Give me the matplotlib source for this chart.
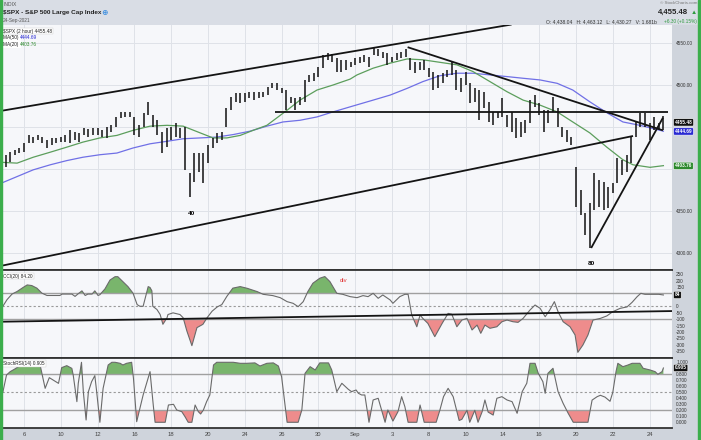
import numpy as np
import matplotlib.pyplot as plt
from matplotlib.patches import Rectangle
from matplotlib.transforms import blended_transform_factory

plt.rcParams['font.family'] = ['Liberation Sans', 'DejaVu Sans']

# $SPX 2-hour bars, 5-Aug-2021 .. 24-Sep-2021 (4 bars per session)
highs = [4417, 4420, 4423, 4425, 4431, 4440, 4438, 4440, 4438, 4434,
         4437, 4437, 4438, 4440, 4446, 4444, 4443, 4449, 4448, 4449,
         4449, 4446, 4450, 4452, 4462, 4468, 4468, 4468, 4462, 4452,
         4467, 4480, 4464, 4458, 4444, 4449, 4450, 4455, 4449, 4450,
         4395, 4419, 4419, 4419, 4429, 4437, 4443, 4444, 4473, 4486,
         4490, 4490, 4490, 4492, 4492, 4492, 4492, 4498, 4502, 4502,
         4496, 4494, 4486, 4485, 4486, 4506, 4512, 4514, 4521, 4536,
         4538, 4537, 4532, 4530, 4530, 4527, 4532, 4533, 4536, 4533,
         4545, 4543, 4539, 4538, 4533, 4538, 4539, 4543, 4532, 4527,
         4527, 4530, 4520, 4516, 4512, 4514, 4518, 4527, 4518, 4508,
         4516, 4502, 4496, 4494, 4492, 4480, 4468, 4468, 4485, 4464,
         4468, 4461, 4456, 4458, 4482, 4488, 4479, 4470, 4470, 4486,
         4473, 4450, 4446, 4438, 4402, 4375, 4348, 4360, 4395, 4387,
         4385, 4379, 4383, 4413, 4411, 4417, 4438, 4456, 4467, 4467,
         4455, 4462, 4455, 4463]
lows = [4402, 4408, 4417, 4419, 4420, 4431, 4431, 4434, 4431, 4425,
        4429, 4431, 4432, 4432, 4431, 4434, 4432, 4440, 4438, 4440,
        4440, 4438, 4437, 4444, 4450, 4461, 4462, 4462, 4440, 4438,
        4450, 4464, 4450, 4440, 4419, 4426, 4434, 4438, 4437, 4399,
        4367, 4385, 4396, 4383, 4407, 4425, 4431, 4434, 4450, 4470,
        4480, 4479, 4480, 4485, 4482, 4485, 4486, 4488, 4496, 4494,
        4490, 4470, 4479, 4470, 4476, 4480, 4504, 4505, 4510, 4520,
        4530, 4527, 4516, 4516, 4518, 4521, 4524, 4526, 4527, 4521,
        4536, 4535, 4532, 4524, 4527, 4530, 4532, 4533, 4518, 4514,
        4518, 4518, 4510, 4494, 4496, 4502, 4510, 4512, 4494, 4492,
        4500, 4479, 4480, 4458, 4473, 4456, 4452, 4461, 4462, 4450,
        4444, 4437, 4438, 4443, 4455, 4474, 4464, 4444, 4455, 4468,
        4450, 4438, 4432, 4429, 4355, 4345, 4322, 4306, 4351, 4355,
        4351, 4354, 4371, 4383, 4393, 4396, 4407, 4438, 4450, 4450,
        4435, 4446, 4446, 4446]

tick_pos = [4, 12, 20, 28, 36, 44, 52, 60, 68, 76, 84, 92, 100, 108, 116, 124, 132, 140]
tick_labels = ['6', '10', '12', '16', '18', '20', '24', '26', '30', 'Sep',
               '3', '8', '10', '14', '16', '20', '22', '24']

ma50_x = [-1, 2.5, 6, 9.7, 13.3, 16.8, 20.5, 24.2, 27.7, 31.4, 35.1, 38.6, 42.3, 45.9,
          49.5, 53.1, 56.8, 60.3, 64, 67.7, 71.2, 74.9, 79.9, 83.6, 87.3, 90.7, 94.4,
          98.1, 101.6, 105.3, 109, 112.5, 116.2, 119.9, 123.3, 127, 130.7, 134.2,
          137.9, 142.3, 143]
ma50_y = [4383, 4391, 4399, 4405, 4410, 4414, 4417, 4419, 4425, 4430, 4433, 4436, 4437,
          4438, 4441, 4445, 4451, 4456, 4458, 4462, 4468, 4474, 4482, 4488, 4496, 4504,
          4511, 4514, 4514, 4512, 4510, 4508, 4506, 4502, 4494, 4480, 4467, 4456, 4452,
          4446, 4445]

ma20_x = [-1, 2.5, 6, 9.7, 13.3, 16.8, 20.5, 24.2, 27.7, 31.4, 35.1, 38.6, 42.3, 45.1,
          48.1, 51, 53.8, 56.8, 61.2, 64, 67.7, 71.2, 74.9, 76.4, 79.9, 83.6, 87.3, 90.7,
          94.4, 98.1, 101.6, 105.3, 109, 112.5, 116.2, 119.9, 123.3, 127, 130.7, 134.2,
          136.4, 140.1, 143]
ma20_y = [4408, 4407, 4414, 4420, 4426, 4432, 4437, 4440, 4446, 4451, 4452, 4451, 4443,
          4437, 4437, 4440, 4446, 4452, 4470, 4482, 4494, 4500, 4507, 4512, 4520, 4526,
          4531, 4530, 4527, 4524, 4516, 4504, 4492, 4482, 4476, 4468, 4456, 4443, 4426,
          4411, 4405, 4402, 4404]

cci_x = [-1.2, -0.6, 0.3, 1.4, 2.5, 3.8, 4.7, 5.7, 6.8, 7.9, 9.0, 10.3, 11.8, 12.3, 13.3,
         14.4, 15.1, 15.7, 16.6, 17.3, 17.9, 18.8, 19.4, 20.1, 20.5, 21.6, 22.7, 23.8,
         24.4, 25.5, 26.6, 27.7, 28.6, 29.2, 29.9, 31.0, 31.4, 31.8, 32.0, 32.9, 33.6,
         34.2, 35.1, 35.3, 36.4, 37.9, 38.6, 39.4, 40.5, 41.6, 42.9, 43.8, 44.9, 46.0,
         47.0, 48.1, 49.4, 51.0, 52.5, 54.7, 56.0, 58.1, 59.7, 61.2, 62.5, 63.6, 64.7,
         65.7, 66.8, 68.3, 69.4, 70.5, 72.0, 73.3, 74.9, 76.4, 77.7, 78.8, 79.9, 81.0,
         82.0, 83.6, 84.2, 85.7, 86.8, 87.5, 88.3, 89.4, 90.1, 90.7, 91.8, 93.3, 94.9,
         96.2, 97.0, 98.1, 99.2, 100.3, 101.4, 102.5, 103.3, 104.2, 105.3, 106.8, 107.9,
         109.0, 110.3, 111.4, 112.5, 114.0, 115.1, 116.2, 117.3, 118.3, 119.3, 120.1,
         121.2, 122.7, 123.8, 124.4, 125.5, 126.6, 127.7, 129.3, 130.7, 132.0, 133.6,
         135.1, 136.2, 137.3, 138.1, 139.0, 140.8, 142.0, 143.0]
cci_y = [0, 0, 51, 95, 115, 146, 166, 161, 141, 102, 84, 84, 84, 95, 95,
         95, 77, 95, 120, 84, 95, 95, 120, 84, 90, 135, 204, 230,
         230, 191, 153, 102, 13, 0, 0, 153, 146, 120, 0, -25, -64,
         -140, -89, -64, -51, -64, -89, -191, -306, -166, -140, -89, -38, -5,
         13, 77, 141, 153, 140, 114, 93, 83, 67, 36, 23, -3, 36,
         114, 179, 218, 231, 192, 101, 93, 75, 67, 83, 75, 101, 62,
         88, 49, 23, 75, 93, 93, -68, -159, -68, -94, -133, -236, -133,
         -55, -62, -159, -107, -94, -184, -146, -210, -146, -171, -159, -120,
         -107, -120, -125, -94, -29, 10, -16, -81, -29, 36, -42,
         -120, -159, -223, -358, -301, -223, -107, -94, -75, -42, -16,
         -5, 31, 75, 101, 93, 93, 93, 88]

srsi_x = [-1.2, -0.6, 0.2, 1.0, 2.0, 2.8, 3.8, 4.9, 6.0, 7.5, 8.6, 9.5, 10.7, 11.5, 12.2,
          13.3, 14.4, 14.7, 15.5, 15.8, 16.5, 16.9, 17.5, 18.0, 18.7, 19.4, 19.8, 20.5,
          21.2, 22.3, 23.1, 23.8, 24.9, 25.5, 26.3, 27.4, 27.8, 28.5, 29.2, 29.9, 31.4,
          32.1, 32.5, 34.7, 35.4, 36.5, 37.2, 38.3, 39.0, 39.7, 40.5, 41.2, 41.9, 42.4,
          43.0, 43.7, 44.4, 45.2, 45.9, 48.1, 49.5, 51.0, 52.4, 54.2, 55.3, 56.8, 58.2,
          59.3, 60.0, 61.2, 63.6, 64.4, 65.1, 66.2, 67.3, 68.3, 70.2, 70.9, 72.0, 73.1,
          74.5, 75.2, 76.2, 76.7, 77.4, 78.1, 79.0, 79.9, 81.0, 82.5, 83.1, 84.2, 85.3,
          86.1, 86.8, 87.5, 89.4, 90.1, 91.0, 93.6, 94.4, 95.2, 96.2, 97.3, 98.6, 99.2,
          100.3, 100.9, 102.0, 102.7, 103.6, 104.2, 104.9, 106.0, 106.8, 107.9, 109.0,
          110.1, 111.2, 112.3, 113.3, 114.0, 115.1, 115.8, 116.8, 117.3, 117.9, 119.0,
          120.1, 121.2, 122.3, 123.4, 126.6, 127.5, 128.6, 129.3, 130.3, 131.4, 132.0,
          132.7, 133.1, 134.2, 135.3, 136.2, 137.9, 138.6, 140.1, 141.2, 141.8, 142.7, 143.0]
srsi_y = [0.594, 0.50, 0.788, 0.844, 0.888, 0.927, 0.955, 0.955, 0.955, 0.955, 0.566, 0.744,
          0.688, 0.649, 0.911, 0.944, 0.899, 0.788, 0.344, 0.649, 1.0, 0.51, 0.038, 0.51,
          0.677, 0.777, 0.51, 0.0, 0.566, 0.955, 1.0, 1.0, 0.983, 0.955, 0.983, 1.0, 0.733,
          0.01, 0.233, 0.455, 0.844, 0.288, 0.0, 0.0, 0.288, 0.3, 0.205, 0.177, 0.094, 0.0,
          0.0, 0.288, 0.177, 0.138, 0.205, 0.344, 0.455, 0.955, 1.0, 1.0, 1.0, 0.983, 0.983,
          0.99, 0.938, 0.983, 0.99, 0.938, 0.76, 0.0, 0.0, 0.205, 0.816, 0.927, 0.872, 0.99,
          0.99, 0.872, 0.511, 0.65, 0.55, 0.511, 0.538, 0.483, 0.455, 0.455, 0.0, 0.372,
          0.4, 0.0, 0.205, 0.02, 0.177, 0.427, 0.26, 0.0, 0.0, 0.288, 0.0, 0.0, 0.2, 0.427,
          0.566, 0.427, 0.03, 0.05, 0.2, 0.0, 0.2, 0.0, 0.177, 0.372, 0.17, 0.12, 0.4, 0.427,
          0.372, 0.344, 0.15, 0.511, 0.65, 0.983, 0.983, 0.816, 0.677, 0.483, 0.816, 0.9,
          0.511, 0.316, 0.15, 0.0, 0.0, 0.37, 0.427, 0.45, 0.42, 0.35, 0.5, 0.844, 0.983,
          0.927, 0.955, 0.983, 0.983, 0.9, 0.872, 0.844, 0.8, 0.844, 0.905]

# hand drawn trend lines: (x0, x1), (y0, y1)
upper_channel = ((-1.2, 110.0), (4469, 4572))
lower_channel = ((-1.2, 136.4), (4284.5, 4439.3))
resistance = ((58.6, 144.0), (4468, 4468))
down_trend = ((87.4, 142.9), (4545, 4446))
up_trend = ((127.3, 142.9), (4306, 4461))
cci_trend = ((-1.2, 145.0), (-120, -37))

W, H = 701, 440
fig = plt.figure(figsize=(W / 100, H / 100), dpi=100)
fig.patch.set_facecolor('#f6f7fa')


def fx(px):
    return px / W


def fy(py):
    return 1 - py / H


def panel(top, bottom, left=2, right=672):
    return fig.add_axes([fx(left), fy(bottom), (right - left) / W, (bottom - top) / H])


strip = '#cfd4dc'
fig.add_artist(Rectangle((0, fy(25)), 1, 25 / H, transform=fig.transFigure,
                         color='#d9dde5', zorder=0))
fig.add_artist(Rectangle((fx(672), fy(428)), 26 / W, 403 / H, transform=fig.transFigure,
                         color=strip, zorder=0))
fig.add_artist(Rectangle((0, 0), 1, 12 / H, transform=fig.transFigure,
                         color=strip, zorder=0))
for gx in (0, 698):
    fig.add_artist(Rectangle((fx(gx), 0), 2 / W, 1, transform=fig.transFigure,
                             color='#3cae4c', zorder=5))

xlim = (-0.78, 144.87)
green_fill = '#79b56c'
red_fill = '#ee8c8c'
line_col = '#6a6a6a'


def style(ax):
    ax.set_facecolor('#f6f7fa')
    ax.set_xlim(*xlim)
    ax.set_xticks(tick_pos)
    ax.grid(axis='x', color='#dfe2e8', lw=0.7)
    ax.set_axisbelow(True)
    ax.yaxis.tick_right()
    ax.tick_params(axis='y', length=0, labelsize=3.4, pad=3, colors='#333333')
    ax.tick_params(axis='x', length=0)
    for s in ('left', 'right', 'top'):
        ax.spines[s].set_visible(False)
    ax.spines['bottom'].set_color('#333333')
    ax.spines['bottom'].set_linewidth(1.3)


def tag(ax, y, text, fc, size=3.4):
    tr = blended_transform_factory(ax.transAxes, ax.transData)
    ax.text(1.004, y, text, transform=tr, ha='left', va='center', fontsize=size,
            color='white', fontweight='bold', clip_on=False, zorder=10,
            bbox=dict(boxstyle='round,pad=0.25', fc=fc, ec='white', lw=0.4))


# ---- price panel
ax1 = panel(25, 270)
style(ax1)
ax1.set_ylim(4279.8, 4571.4)
ax1.set_yticks([4300, 4350, 4400, 4450, 4500, 4550])
ax1.set_yticklabels(['4300.00', '4350.00', '', '', '4500.00', '4550.00'])
ax1.grid(axis='y', color='#dfe2e8', lw=0.7)
ax1.set_xticklabels([])
bar_x = np.arange(len(highs))
ax1.vlines(bar_x, lows, highs, color='#111111', lw=1.1, zorder=3)
ax1.plot(ma50_x, ma50_y, color='#7070e6', lw=0.9, zorder=2)
ax1.plot(ma20_x, ma20_y, color='#5c9e5c', lw=0.9, zorder=2)
for (lx, ly) in (upper_channel, lower_channel, resistance, down_trend, up_trend):
    ax1.plot(lx, ly, color='#141414', lw=1.3, zorder=4, solid_capstyle='butt')
ax1.text(40.5, 4347, '40', ha='center', va='center', fontsize=4.6, fontweight='bold')
ax1.text(127.3, 4287, '80', ha='center', va='center', fontsize=4.6, fontweight='bold')
tag(ax1, 4455.48, '4455.48', '#111111')
tag(ax1, 4444.69, '4444.69', '#2a2ad2')
tag(ax1, 4403.76, '4403.76', '#2e8a2e')

leg_tr = ax1.transAxes
ax1.text(0.002, 0.975, '$SPX (2 hour) 4455.48', transform=leg_tr, fontsize=3.4,
         va='center', color='#222222',
         bbox=dict(fc='white', ec='#cccccc', lw=0.3, pad=0.6))
ax1.text(0.002, 0.947, 'MA(50) ', transform=leg_tr, fontsize=3.4, va='center',
         color='#222222', bbox=dict(fc='white', ec='none', pad=0.6))
ax1.text(0.027, 0.947, '4444.69', transform=leg_tr, fontsize=3.4, va='center',
         color='#2a2ad2')
ax1.text(0.002, 0.919, 'MA(20) ', transform=leg_tr, fontsize=3.4, va='center',
         color='#222222', bbox=dict(fc='white', ec='none', pad=0.6))
ax1.text(0.027, 0.919, '4403.76', transform=leg_tr, fontsize=3.4, va='center',
         color='#2e8a2e')

# ---- CCI panel
ax2 = panel(270, 357.5)
style(ax2)
ax2.set_ylim(-398, 282)
cci_ticks = [250, 200, 150, 100, 50, 0, -50, -100, -150, -200, -250, -300, -350]
ax2.set_yticks(cci_ticks)
# the value tag hides the 100 / 50 labels
ax2.set_yticklabels(['' if t in (50, 100) else str(t) for t in cci_ticks])
ax2.set_xticklabels([])
cx = np.array(cci_x)
cy = np.array(cci_y)
ax2.axhline(100, color='#a0a0a0', lw=1.0)
ax2.axhline(-100, color='#a0a0a0', lw=1.0)
ax2.axhline(0, color='#9a9a9a', lw=0.8, ls=(0, (2, 2)))
ax2.fill_between(cx, cy, 100, where=cy >= 100, interpolate=True, color=green_fill, lw=0)
ax2.fill_between(cx, cy, -100, where=cy <= -100, interpolate=True, color=red_fill, lw=0)
ax2.plot(cx, cy, color=line_col, lw=0.8)
ax2.plot(*cci_trend, color='#141414', lw=1.3)
ax2.text(73.4, 197, 'div', color='#e03030', fontsize=4.2, ha='center', va='center')
ax2.text(0.002, 0.93, 'CCI(20) 84.20', transform=ax2.transAxes, fontsize=3.4,
         va='center', color='#222222', bbox=dict(fc='white', ec='#cccccc', lw=0.3, pad=0.6))
tag(ax2, 88, '84', '#111111')
ax2.spines['top'].set_visible(True)
ax2.spines['top'].set_color('#333333')
ax2.spines['top'].set_linewidth(1.3)

# ---- StochRSI panel
ax3 = panel(357.5, 427.5)
style(ax3)
ax3.set_ylim(-0.087, 1.08)
s_ticks = [1.0, 0.9, 0.8, 0.7, 0.6, 0.5, 0.4, 0.3, 0.2, 0.1, 0.0]
ax3.set_yticks(s_ticks)
ax3.set_yticklabels(['' if t == 0.9 else '%.3f' % t for t in s_ticks])
ax3.set_xticklabels(tick_labels)
ax3.tick_params(axis='x', labelsize=4.2, pad=3, colors='#444444')
sx = np.array(srsi_x)
sy = np.array(srsi_y)
ax3.axhline(0.8, color='#a0a0a0', lw=1.0)
ax3.axhline(0.2, color='#a0a0a0', lw=1.0)
ax3.axhline(0.5, color='#9a9a9a', lw=0.8, ls=(0, (2, 2)))
ax3.fill_between(sx, sy, 0.8, where=sy >= 0.8, interpolate=True, color=green_fill, lw=0)
ax3.fill_between(sx, sy, 0.2, where=sy <= 0.2, interpolate=True, color=red_fill, lw=0)
ax3.plot(sx, sy, color=line_col, lw=0.8)
ax3.spines['top'].set_visible(True)
ax3.spines['top'].set_color('#333333')
ax3.spines['top'].set_linewidth(1.3)
ax3.text(0.002, 0.91, 'StochRSI(14) 0.905', transform=ax3.transAxes, fontsize=3.4,
         va='center', color='#222222', bbox=dict(fc='white', ec='#cccccc', lw=0.3, pad=0.6))
tag(ax3, 0.905, '0.905', '#111111')

# ---- header
fig.text(fx(3), fy(5), 'INDIX', fontsize=3.6, color='#555555', va='center')
fig.text(fx(3), fy(12.5), '$SPX - S&P 500 Large Cap Index', fontsize=4.6,
         fontweight='bold', color='#222222', va='center')
fig.text(fx(104), fy(12.5), '\u2295', fontsize=5.5, color='#3b8ee0', va='center',
         ha='center', family='DejaVu Sans', fontweight='bold')
fig.text(fx(3), fy(20.5), '24-Sep-2021', fontsize=3.4, color='#555555', va='center')
fig.text(fx(697), fy(3.5), '\u00a9 StockCharts.com', fontsize=3.2, color='#777777',
         va='center', ha='right')
fig.text(fx(688), fy(12.5), '4,455.48', fontsize=5.6, fontweight='bold', color='#222222',
         va='center', ha='right')
fig.text(fx(697), fy(12.5), '\u25b2', fontsize=4.5, color='#2e9a3e', va='center', ha='right')
fig.text(fx(657), fy(21.5), 'O: 4,438.04   H: 4,463.12   L: 4,430.27   V: 1.681b',
         fontsize=3.6, color='#333333', va='center', ha='right')
fig.text(fx(697), fy(21.5), '+6.30 (+0.15%)', fontsize=3.4, color='#2e9a3e',
         va='center', ha='right')

fig.savefig('out.png', dpi=100, facecolor=fig.get_facecolor())
